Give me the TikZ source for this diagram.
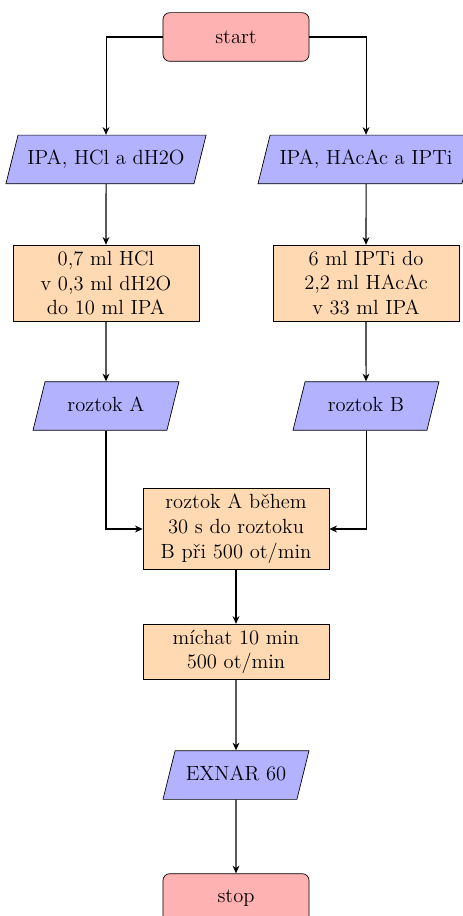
\documentclass[tikz,border=0pt]{standalone}
\usetikzlibrary{shapes.geometric,arrows.meta}

\tikzset{
  every node/.style={font=\fontsize{12}{14.5}\selectfont},
  terminal/.style={rectangle, rounded corners=4pt, draw, fill=red!30,
    minimum width=3cm, minimum height=1cm, text centered},
  iobox/.style={trapezium, trapezium left angle=76, trapezium right angle=104,
    trapezium stretches body=true, text height=8.5pt, text depth=2.5pt,
    inner ysep=8.7pt, inner xsep=5.5pt,
    draw, fill=blue!30, minimum width=3cm, minimum height=1cm, text centered},
  procbox/.style={rectangle, draw, fill=orange!30, minimum width=108.7pt,
    minimum height=1cm, align=center},
  arr/.style={semithick, -{Stealth[length=4.5pt,width=4pt]}}
}

\begin{document}
\begin{tikzpicture}[x=0.5845pt, y=-0.5845pt]
  \useasboundingbox (0,0) rectangle (462,916);

  % nodes
  \node[terminal] (start) at (236,37) {start};
  \node[iobox] (in1) at (106,159.5) {IPA, HCl a dH2O};
  \node[iobox] (in2) at (366,159.5) {IPA, HAcAc a IPTi};
  \node[procbox] (p1) at (106,283) {0,7 ml HCl\\v 0,3 ml dH2O\\do 10 ml IPA};
  \node[procbox] (p2) at (366,283) {6 ml IPTi do\\2,2 ml HAcAc\\v 33 ml IPA};
  \node[iobox] (ra) at (106,406) {roztok A};
  \node[iobox] (rb) at (366,406) {roztok B};
  \node[procbox] (join) at (236,529) {roztok A během\\30 s do roztoku\\B při 500 ot/min};
  \node[procbox] (mix) at (236,652) {míchat 10 min\\500 ot/min};
  \node[iobox] (exnar) at (236,775) {EXNAR 60};
  \node[terminal] (stop) at (236,898) {stop};

  % connectors
  \draw[arr] (start.west) -| (in1.north);
  \draw[arr] (start.east) -| (in2.north);
  \draw[arr] (in1) -- (p1);
  \draw[arr] (in2) -- (p2);
  \draw[arr] (p1) -- (ra);
  \draw[arr] (p2) -- (rb);
  \draw[arr] (ra.south) |- (join.west);
  \draw[arr] (rb.south) |- (join.east);
  \draw[arr] (join) -- (mix);
  \draw[arr] (mix) -- (exnar);
  \draw[arr] (exnar) -- (stop);
\end{tikzpicture}
\end{document}
